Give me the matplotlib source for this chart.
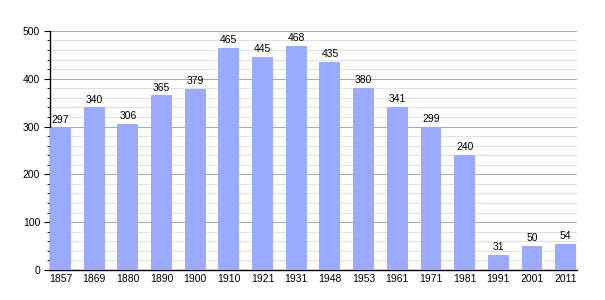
import numpy as np
import matplotlib
matplotlib.use('Agg')
import matplotlib.pyplot as plt
from matplotlib.ticker import MultipleLocator

years = ['1857', '1869', '1880', '1890', '1900', '1910', '1921', '1931',
         '1948', '1953', '1961', '1971', '1981', '1991', '2001', '2011']
population = [297, 340, 306, 365, 379, 465, 445, 468, 435, 380, 341, 299, 240, 31, 50, 54]

plt.rcParams['font.family'] = ['Liberation Sans', 'DejaVu Sans']

fig = plt.figure(figsize=(6.05, 3.0), dpi=100)
ax = fig.add_axes([0.0826, 0.1, 0.8714, 0.797])

x = np.arange(len(years))
w = 0.62
ax.bar(x, population, width=w, color='#99aaff', zorder=3)
for xi, v in zip(x, population):
    ax.text(xi, v + 6, str(v), ha='center', va='bottom', fontsize=7.5, zorder=4)

ax.set_xlim(-w / 2, len(years) - 1 + w / 2 + 0.03)
ax.set_ylim(0, 500)
ax.set_xticks(x)
ax.set_xticklabels(years)
ax.yaxis.set_major_locator(MultipleLocator(100))
ax.yaxis.set_minor_locator(MultipleLocator(20))
ax.grid(axis='y', which='major', color='#aaaaaa', linewidth=0.8, zorder=0)
ax.grid(axis='y', which='minor', color='#e0e0e0', linewidth=0.8, zorder=0)
ax.tick_params(axis='x', length=0, labelsize=7.5, pad=3)
ax.tick_params(axis='y', which='major', length=4, labelsize=7.5, pad=3)
ax.tick_params(axis='y', which='minor', length=2)
for s in ['top', 'right']:
    ax.spines[s].set_visible(False)
ax.spines['left'].set_linewidth(1.0)
ax.spines['bottom'].set_linewidth(1.0)

fig.savefig('out.png', dpi=100)
